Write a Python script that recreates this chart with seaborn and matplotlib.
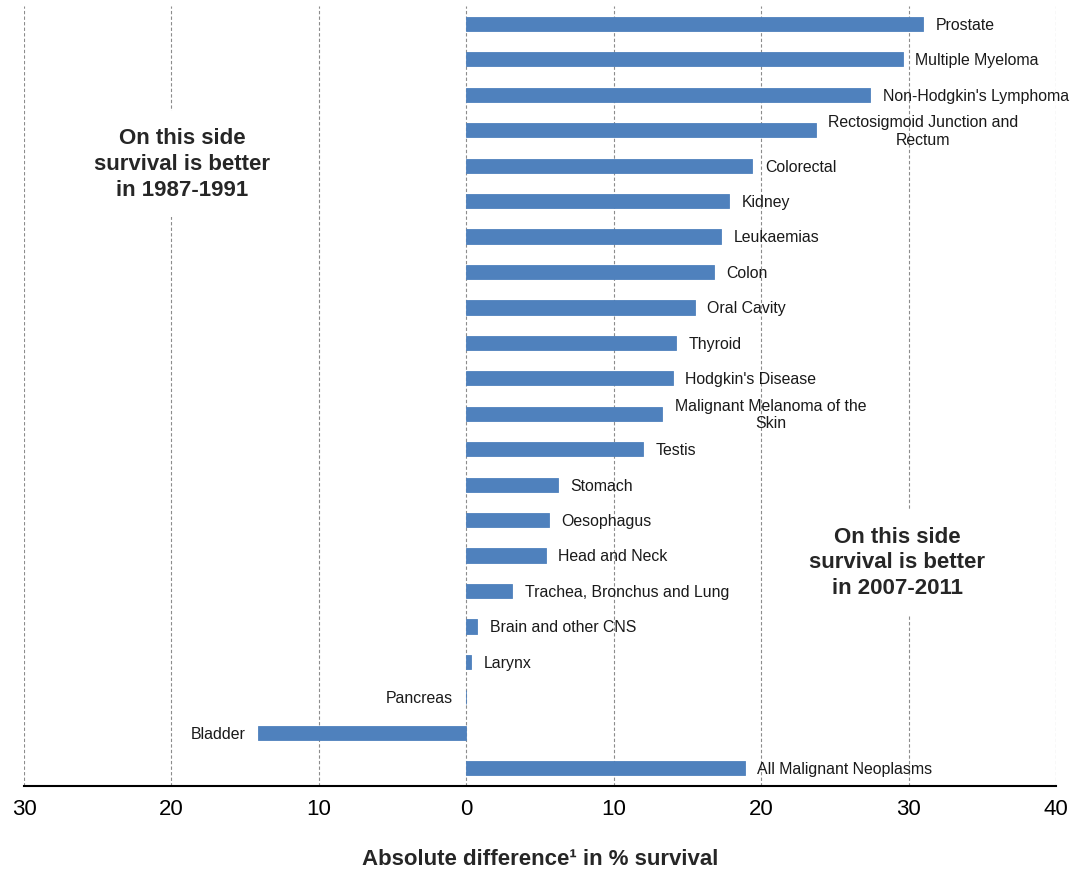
import matplotlib
matplotlib.use("Agg")
import matplotlib.pyplot as plt
import seaborn as sns
import pandas as pd
from matplotlib.ticker import FixedLocator, FuncFormatter

categories = [
    "Prostate", "Multiple Myeloma", "Non-Hodgkin's Lymphoma",
    "Rectosigmoid Junction and\nRectum", "Colorectal", "Kidney", "Leukaemias",
    "Colon", "Oral Cavity", "Thyroid", "Hodgkin's Disease",
    "Malignant Melanoma of the\nSkin", "Testis", "Stomach", "Oesophagus",
    "Head and Neck", "Trachea, Bronchus and Lung", "Brain and other CNS",
    "Larynx", "Pancreas", "Bladder", "All Malignant Neoplasms",
]
values = [31.0, 29.6, 27.4, 23.7, 19.4, 17.8, 17.3, 16.8, 15.5, 14.2, 14.0,
          13.3, 12.0, 6.2, 5.6, 5.4, 3.1, 0.75, 0.35, -0.05, -14.1, 18.9]
tick_values = [-30, -20, -10, 0, 10, 20, 30, 40]

x_label = "Absolute difference¹ in % survival"
left_note = "On this side\nsurvival is better\nin 1987-1991"
right_note = "On this side\nsurvival is better\nin 2007-2011"

df = pd.DataFrame({"category": categories, "value": values})

sns.set_style("white")
narrow = ["Liberation Sans Narrow", "Liberation Sans", "DejaVu Sans"]
plt.rcParams["font.family"] = ["Liberation Sans", "DejaVu Sans"]

fig = plt.figure(figsize=(10.72, 8.69), dpi=100)
ax = fig.add_axes([0.0224, 0.0955, 0.9627, 0.8975])

sns.barplot(data=df, x="value", y="category", orient="h", color="#4F81BD",
            saturation=1, width=0.4, ax=ax, zorder=3,
            edgecolor="#4F81BD", linewidth=0.6)

ax.set_xlim(-30, 40)
ax.set_ylim(len(categories) - 0.5, -0.5)

# grid
for t in tick_values:
    ax.axvline(t, color="#8c8c8c", linestyle=(0, (3, 2)), linewidth=0.8, zorder=0)

ax.xaxis.set_major_locator(FixedLocator(tick_values))
ax.xaxis.set_major_formatter(FuncFormatter(lambda v, p: f"{abs(int(round(v)))}"))
ax.tick_params(axis="x", direction="out", length=6, width=1.2, colors="black",
               labelsize=16, pad=3)
ax.set_yticks([])
ax.set_ylabel("")
ax.set_xlabel(x_label, fontsize=16, fontweight="bold", labelpad=21)

for side in ["left", "right", "top"]:
    ax.spines[side].set_visible(False)
ax.spines["bottom"].set_color("black")
ax.spines["bottom"].set_linewidth(1.5)

# bar labels
gap = 0.85
for i, (c, v) in enumerate(zip(categories, values)):
    if v > 0:
        ax.text(v + gap, i + 0.04, c, ha="left", va="center", multialignment="center",
                fontsize=11.4, family=narrow, color="#1a1a1a", zorder=4,
                linespacing=1.2)
    else:
        ax.text(v - gap, i + 0.04, c, ha="right", va="center", multialignment="center",
                fontsize=11.4, family=narrow, color="#1a1a1a", zorder=4,
                linespacing=1.2)

box = dict(facecolor="white", edgecolor="none", pad=12)
ax.text(0.153, 0.797, left_note, transform=ax.transAxes, ha="center", va="center",
        fontsize=16, fontweight="bold", linespacing=1.3, bbox=box, zorder=5)
ax.text(0.846, 0.286, right_note, transform=ax.transAxes, ha="center", va="center",
        fontsize=16, fontweight="bold", linespacing=1.3, bbox=box, zorder=5)

fig.savefig("out.png", dpi=100, facecolor="white")
